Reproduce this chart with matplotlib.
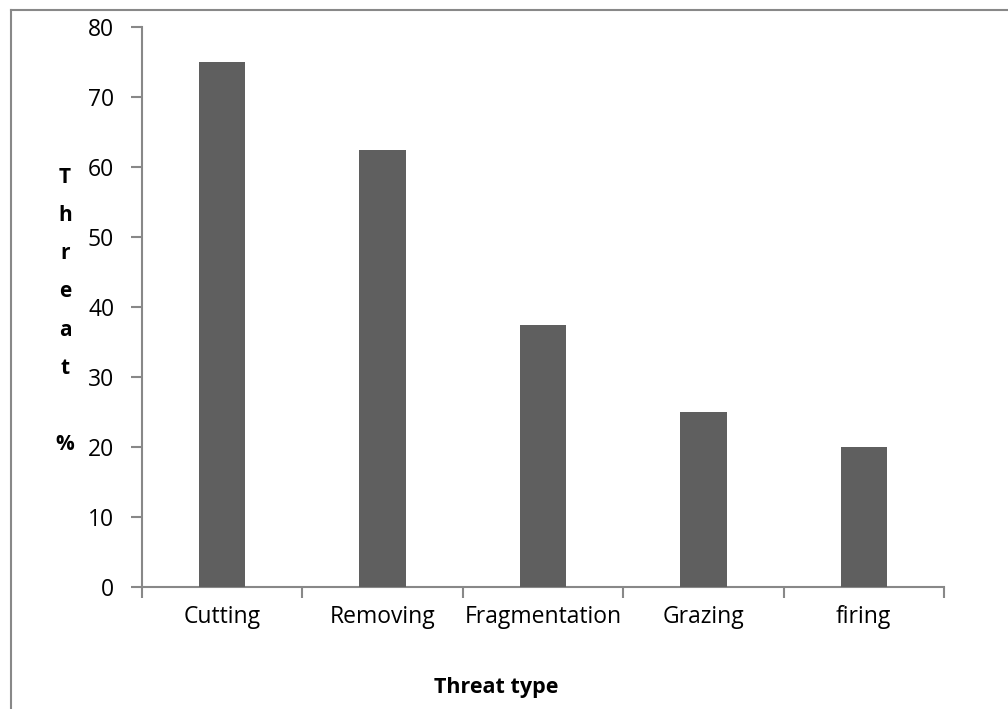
import matplotlib
matplotlib.use("Agg")
import matplotlib.pyplot as plt
from matplotlib.lines import Line2D
from matplotlib.ticker import FixedLocator

categories = ["Cutting", "Removing", "Fragmentation", "Grazing", "firing"]
values = [75, 62.5, 37.5, 25, 20]
yticks = [0, 10, 20, 30, 40, 50, 60, 70, 80]

plt.rcParams['font.family'] = ['Open Sans', 'DejaVu Sans']

fig = plt.figure(figsize=(10.08, 7.09), dpi=100)
ax = fig.add_axes([142/1008, 1-587/709, (944-142)/1008, (587-27)/709])

x = list(range(len(categories)))
ax.bar(x, values, width=0.29, color="#5f5f5f", zorder=3)
ax.set_xlim(-0.5, len(categories) - 0.5)
ax.set_ylim(0, 80)
ax.set_yticks(yticks)
ax.set_yticklabels([str(v) for v in yticks], fontsize=16.5)
ax.set_xticks(x)
ax.set_xticklabels(categories, fontsize=16.5)
ax.tick_params(axis='x', which='major', length=0, pad=13)
ax.xaxis.set_minor_locator(FixedLocator([i - 0.5 for i in range(len(categories) + 1)]))
ax.tick_params(axis='x', which='minor', length=8, color="#888888", width=1.5)
ax.tick_params(axis='y', length=8, color="#888888", width=1.5, pad=12)

for s in ['top', 'right']:
    ax.spines[s].set_visible(False)
for s in ['left', 'bottom']:
    ax.spines[s].set_color("#888888")
    ax.spines[s].set_linewidth(1.5)

# vertical stacked y label
fig.text(65/1008, 1-311/709, "T\nh\nr\ne\na\nt\n\n%", ha='center', va='center',
         fontsize=15, fontweight='bold', linespacing=2.08)
fig.text(496/1008, 1-688/709, "Threat type", ha='center', va='center',
         fontsize=15.5, fontweight='bold')

# outer border (partially visible)
fig.add_artist(Line2D([11/1008, 11/1008], [0, 1-10/709], transform=fig.transFigure,
                      color="#888888", linewidth=1.5))
fig.add_artist(Line2D([11/1008, 1], [1-10/709, 1-10/709], transform=fig.transFigure,
                      color="#888888", linewidth=1.5))

fig.savefig("out.png", dpi=100)
